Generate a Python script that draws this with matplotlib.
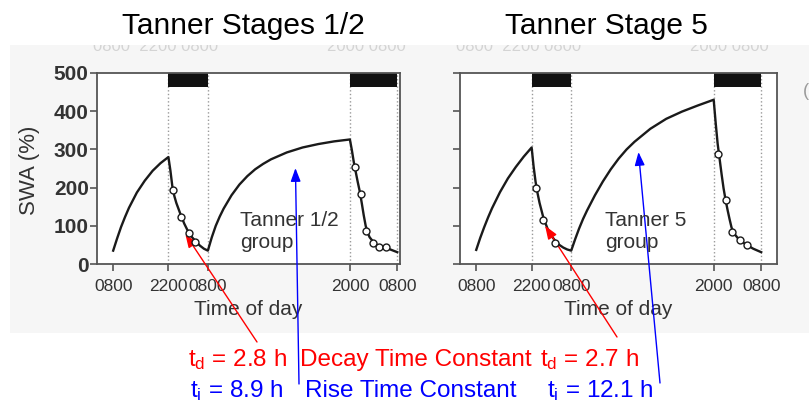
import numpy as np
import matplotlib.pyplot as plt
from matplotlib.patches import Rectangle
from matplotlib.transforms import Bbox

# DATA (hours after 0800 on day 1, SWA in %)
tick_hours = [0, 14, 24, 60, 72]
tick_labels = ['0800', '2200', '0800', '2000', '0800']
sleep_periods = [(14, 24), (60, 72)]

# Tanner 1/2 group: model curve + measured points
t12_curve = [0, 1, 2, 3, 4, 6, 8, 10, 12, 14,
             14.5, 15, 15.5, 16, 17, 18, 19, 20, 21, 22, 23, 24,
             25, 26, 27, 28, 30, 32, 34, 36, 38, 40, 44, 48, 52, 56, 60,
             60.5, 61, 61.5, 62, 62.5, 63, 63.5, 64, 64.5, 65, 66, 67, 68, 70, 72]
swa12_curve = [35, 67, 97, 123, 147, 187, 218, 244, 264, 280,
               245, 203, 178, 160, 132, 106, 85, 70, 58, 48, 40, 35,
               70, 100, 124, 145, 180, 208, 230, 248, 262, 274, 292, 305, 314, 321, 326,
               298, 266, 240, 214, 190, 160, 128, 100, 82, 70, 57, 49, 45, 39, 31]
t12_pts = [15.1, 17.3, 19.1, 20.8, 61.2, 62.7, 64.2, 65.9, 67.5, 69.2]
swa12_pts = [194, 124, 82, 58, 255, 183, 87, 54, 45, 44]

# Tanner 5 group
t5_curve = [0, 1, 2, 3, 4, 6, 8, 10, 12, 14,
            14.5, 15, 15.5, 16, 17, 18, 19, 20, 21, 22, 23, 24,
            25, 26, 27, 28, 30, 32, 34, 36, 38, 40, 44, 48, 52, 56, 60,
            60.5, 61, 61.5, 62, 62.5, 63, 63.5, 64, 64.5, 65, 66, 67, 68, 70, 72]
swa5_curve = [37, 68, 96, 122, 146, 188, 224, 254, 281, 305,
              255, 215, 185, 160, 120, 93, 74, 60, 50, 43, 38, 35,
              65, 93, 118, 140, 180, 216, 248, 276, 300, 320, 354, 380, 399, 415, 430,
              370, 315, 275, 235, 198, 168, 142, 118, 96, 82, 69, 60, 52, 40, 31]
t5_pts = [15.2, 16.9, 20.0, 61.2, 63.0, 64.7, 66.6, 68.4]
swa5_pts = [200, 115, 54, 288, 167, 85, 63, 50]

W, H = 809, 404
def fx(px):
    return px / W
def fy(py):
    return 1 - py / H

plt.rcParams['font.family'] = 'Liberation Sans'
plt.rcParams['mathtext.fontset'] = 'custom'
plt.rcParams['mathtext.rm'] = 'Liberation Sans'
plt.rcParams['mathtext.it'] = 'Liberation Sans'

fig = plt.figure(figsize=(8.09, 4.04), dpi=100)
fig.patch.set_facecolor('white')

# light grey band of the pasted figure
fig.add_artist(Rectangle((fx(10), fy(333)), fx(809) - fx(10), fy(45) - fy(333),
                         transform=fig.transFigure, facecolor='#f6f6f6',
                         edgecolor='none', zorder=-10))

# faint cut-off labels of the panel above (only their lower part shows)
clip = Bbox.from_extents(0, 0, W, H - 45)
for x0, s in [(93, '0800  2200 0800'), (327, '2000 0800'),
              (456, '0800  2200 0800'), (690, '2000 0800')]:
    g = fig.text(fx(x0), fy(51), s, fontsize=12, color='#d4d4d4', va='baseline')
    g.set_clip_box(clip)
    g.set_clip_on(True)

ax1 = fig.add_axes([fx(97), fy(264), fx(400) - fx(97), fy(73) - fy(264)])
ax2 = fig.add_axes([fx(460), fy(264), fx(777) - fx(460), fy(73) - fy(264)])


def draw_panel(ax, t, v, tp, vp, xmax, show_y):
    ax.set_xlim(-4.1, xmax)
    ax.set_ylim(0, 500)
    for a, b in sleep_periods:
        ax.add_patch(Rectangle((a, 463), b - a, 37, facecolor='#111111',
                               edgecolor='none', zorder=2))
    for x in tick_hours[1:]:
        ax.axvline(x, color='#9a9a9a', ls=':', lw=1, zorder=1)
    ax.plot(t, v, color='#1a1a1a', lw=1.7, zorder=3)
    ax.plot(tp, vp, 'o', ms=5, mfc='white', mec='#1a1a1a', mew=1, zorder=4)
    ax.set_xticks(tick_hours, tick_labels, fontsize=12.5, color='#333333')
    ax.set_yticks(range(0, 501, 100))
    ax.tick_params(axis='x', length=5, width=1.2, color='#555555', pad=6)
    ax.tick_params(axis='y', length=5, width=1.2, color='#555555', pad=1,
                   labelleft=show_y, labelsize=15, labelcolor='#333333')
    if show_y:
        for lab in ax.get_yticklabels():
            lab.set_fontweight('bold')
    for sp in ax.spines.values():
        sp.set_color('#555555')
        sp.set_linewidth(1.3)
    ax.text(0.5, -0.24, 'Time of day', transform=ax.transAxes, ha='center',
            va='center', fontsize=15, color='#333333')


draw_panel(ax1, t12_curve, swa12_curve, t12_pts, swa12_pts, 72.7, True)
draw_panel(ax2, t5_curve, swa5_curve, t5_pts, swa5_pts, 76.0, False)

fig.text(fx(30), fy(170), 'SWA (%)', rotation=90, ha='center', va='center',
         fontsize=16, color='#333333')

for x0, s in [(240, 'Tanner 1/2'), (605, 'Tanner 5')]:
    fig.text(fx(x0), fy(220), s, ha='left', va='center', fontsize=15, color='#333333')
    fig.text(fx(x0), fy(243), 'group', ha='left', va='center', fontsize=15, color='#333333')

# titles
fig.text(fx(243), fy(34), 'Tanner Stages 1/2', ha='center', va='baseline', fontsize=21.5)
fig.text(fx(606), fy(34), 'Tanner Stage 5', ha='center', va='baseline', fontsize=21.5)

# time constant annotations
red, blue = '#ff0000', '#0000ff'
fig.text(fx(188), fy(366), r'$\mathrm{t_d}$ = 2.8 h', color=red, fontsize=17.5, va='baseline')
fig.text(fx(300), fy(366), 'Decay Time Constant', color=red, fontsize=17.5, va='baseline')
fig.text(fx(540), fy(366), r'$\mathrm{t_d}$ = 2.7 h', color=red, fontsize=17.5, va='baseline')
fig.text(fx(190), fy(397), r'$\mathrm{t_i}$ = 8.9 h', color=blue, fontsize=17.5, va='baseline')
fig.text(fx(305), fy(397), 'Rise Time Constant', color=blue, fontsize=17.5, va='baseline')
fig.text(fx(547), fy(397), r'$\mathrm{t_i}$ = 12.1 h', color=blue, fontsize=17.5, va='baseline')

arrow = dict(arrowstyle='-|>,head_length=0.8,head_width=0.3', lw=1,
             shrinkA=0, shrinkB=0, mutation_scale=10)
for ax, xy, tail, c in [(ax1, (18.3, 78), (257, 342), red),
                        (ax2, (17.4, 100), (617, 337), red),
                        (ax1, (46.2, 251), (299, 384), blue),
                        (ax2, (41.0, 293), (660, 383), blue)]:
    ax.annotate('', xy=xy, xycoords='data', xytext=(fx(tail[0]), fy(tail[1])),
                textcoords='figure fraction', annotation_clip=False,
                arrowprops=dict(arrow, color=c, fc=c, ec=c))

fig.text(fx(806), fy(92), '(', color='#9a9a9a', fontsize=13, ha='center', va='center')

fig.savefig('out.png', dpi=100)
